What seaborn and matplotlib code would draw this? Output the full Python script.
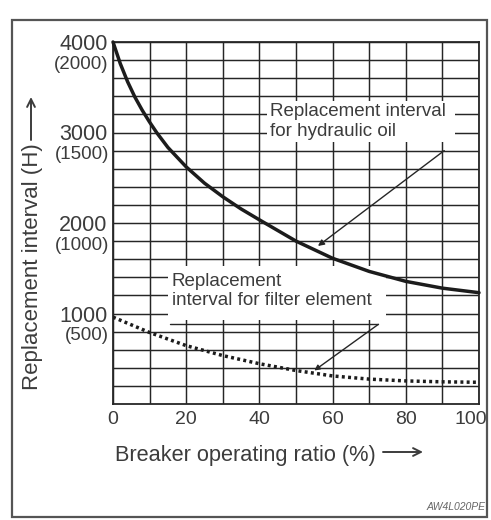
import numpy as np
import pandas as pd
import seaborn as sns
import matplotlib.pyplot as plt
from matplotlib.patches import Rectangle
from matplotlib.transforms import blended_transform_factory, ScaledTranslation

# Breaker operating ratio (%) and replacement interval (hours)
oil_ratio = [0, 2, 4, 6, 8, 10, 12, 15, 20, 25, 30, 35, 40, 50, 60, 70, 80, 90, 100]
oil_hours = [4000, 3760, 3560, 3390, 3245, 3115, 2995, 2835, 2620, 2440, 2290,
             2155, 2035, 1800, 1610, 1465, 1355, 1280, 1230]

filter_ratio = [0, 10, 20, 30, 40, 50, 60, 70, 80, 90, 100]
filter_hours = [960, 790, 645, 535, 445, 370, 310, 275, 255, 245, 240]

x_ticks = [0, 20, 40, 60, 80, 100]
y_ticks = [1000, 2000, 3000, 4000]
y_tick_labels = ["1000", "2000", "3000", "4000"]
y_sub_labels = ["(500)", "(1000)", "(1500)", "(2000)"]

oil_note = "Replacement interval\nfor hydraulic oil"
filter_note = "Replacement\ninterval for filter element"
x_title = "Breaker operating ratio (%)"
y_title = "Replacement interval (H)"
code_tag = "AW4L020PE"

sns.set_style("white")
plt.rcParams["font.family"] = ["Liberation Sans", "DejaVu Sans"]

INK = "#262626"
TXT = "#3c3c3c"

oil_df = pd.DataFrame({"ratio": oil_ratio, "hours": oil_hours})
filter_df = pd.DataFrame({"ratio": filter_ratio, "hours": filter_hours})

W, H = 491, 520
fig = plt.figure(figsize=(W / 100, H / 100), dpi=100)
fig.patch.set_facecolor("white")
ax = fig.add_axes([113 / W, 1 - 404 / H, 366 / W, 362 / H])


def fx(px):
    return px / W


def fy(py):
    return 1 - py / H


# outer frame around the figure
fig.add_artist(Rectangle((fx(12), fy(517)), fx(487) - fx(12), fy(20) - fy(517),
                         transform=fig.transFigure, fill=False,
                         ec="#555555", lw=1.6))

sns.lineplot(data=oil_df, x="ratio", y="hours", ax=ax, color="#1c1c1c",
             lw=2.5, zorder=5, clip_on=False)
sns.lineplot(data=filter_df, x="ratio", y="hours", ax=ax, color="#1c1c1c",
             lw=2.5, linestyle=(0, (0.85, 0.95)), zorder=5)

ax.set_xlim(0, 100)
ax.set_ylim(0, 4000)
ax.set_xticks(x_ticks)
ax.set_xticks(np.arange(10, 100, 20), minor=True)
ax.set_yticks(y_ticks)
ax.set_yticks(np.arange(200, 4000, 200), minor=True)
ax.set_yticklabels(y_tick_labels)
ax.grid(True, which="both", color=INK, lw=1.05)
ax.set_axisbelow(True)
for side in ax.spines.values():
    side.set_color(INK)
    side.set_linewidth(1.3)
ax.tick_params(which="both", length=0)
ax.tick_params(axis="x", pad=5, labelsize=14, labelcolor=TXT)
ax.tick_params(axis="y", pad=4, labelsize=15.5, labelcolor=TXT)
ax.set_xlabel("")
ax.set_ylabel("")

# keep the last x label inside the frame
last = ax.get_xticklabels()[-1]
last.set_transform(last.get_transform() + ScaledTranslation(-8 / 100, 0, fig.dpi_scale_trans))

# axis titles with long arrows
fig.text(fx(115), fy(455), x_title, fontsize=15.7, color=TXT,
         ha="left", va="center")
ax.annotate("", xy=(fx(423), fy(452)), xycoords="figure fraction",
            xytext=(fx(383), fy(452)), textcoords="figure fraction",
            arrowprops=dict(arrowstyle="->", color=TXT, lw=1.4,
                            mutation_scale=14, shrinkA=0, shrinkB=0),
            annotation_clip=False)
fig.text(fx(33), fy(267), y_title, rotation=90, fontsize=16, color=TXT,
         ha="center", va="center")
ax.annotate("", xy=(fx(31), fy(97)), xycoords="figure fraction",
            xytext=(fx(31), fy(140)), textcoords="figure fraction",
            arrowprops=dict(arrowstyle="->", color=TXT, lw=1.4,
                            mutation_scale=14, shrinkA=0, shrinkB=0),
            annotation_clip=False)

# secondary scale values under each major y label
ytrans = blended_transform_factory(ax.transAxes, ax.transData)
for v, s in zip(y_ticks, y_sub_labels):
    ax.annotate(s, xy=(0, v), xycoords=ytrans, xytext=(-3, -10),
                textcoords="offset points", ha="right", va="top",
                fontsize=13.5, color=TXT)

# callout for hydraulic oil curve
ax.add_patch(Rectangle((42, 2900), 51.5, 450, fc="white", ec="none", zorder=2))
ax.text(43, 3120, oil_note, fontsize=13.5, color=TXT, ha="left", va="center",
        linespacing=1.2, zorder=4)
oil_tip = 56
ax.annotate("", xy=(oil_tip, np.interp(oil_tip, oil_ratio, oil_hours) + 60),
            xytext=(90.5, 2800),
            arrowprops=dict(arrowstyle="-|>", color=INK, lw=1.0,
                            mutation_scale=9, shrinkA=0, shrinkB=0),
            zorder=6)

# callout for filter element curve
ax.add_patch(Rectangle((15, 930), 59.5, 600, fc="white", ec="none", zorder=2))
ax.text(16, 1250, filter_note, fontsize=13.5, color=TXT, ha="left",
        va="center", linespacing=1.2, zorder=4)
ax.plot([15.5, 72.5], [880, 880], color=INK, lw=1.0, zorder=3)
flt_tip = 55
ax.annotate("", xy=(flt_tip, np.interp(flt_tip, filter_ratio, filter_hours) + 30),
            xytext=(72.5, 880),
            arrowprops=dict(arrowstyle="-|>", color=INK, lw=1.0,
                            mutation_scale=8, shrinkA=0, shrinkB=0),
            zorder=6)

fig.text(fx(486), fy(507), code_tag, fontsize=7.5, style="italic",
         color="#666666", ha="right", va="center")

fig.savefig("out.png", dpi=100, facecolor="white")
